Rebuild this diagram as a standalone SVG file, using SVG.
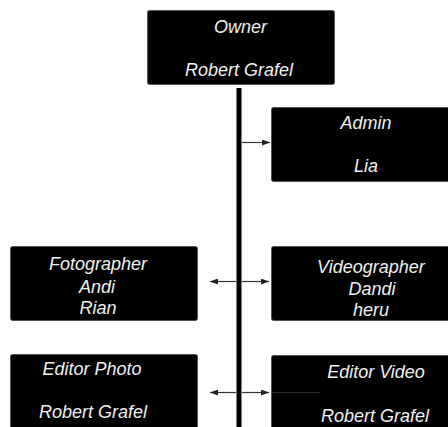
<svg xmlns="http://www.w3.org/2000/svg" width="448" height="427" viewBox="0 0 448 427">
<style>
.box{fill:#000;stroke:#555;stroke-width:1}
.t{font-family:"Liberation Sans",Arial,sans-serif;font-style:italic;font-size:18px;fill:#f0f0f0;text-anchor:middle}
.conn{stroke:#333;stroke-width:1.2;fill:none}
</style>
<defs>
<marker id="ah" viewBox="0 0 8 6" refX="8" refY="3" markerWidth="8" markerHeight="6" markerUnits="userSpaceOnUse" orient="auto">
<path d="M0,0 L8,3 L0,6 z" fill="#222"/>
</marker>
</defs>
<rect width="448" height="427" fill="#fff"/>
<g id="connectors">
<rect x="236.5" y="88" width="5" height="339" fill="#000"/>
<line class="conn" x1="242" y1="142.5" x2="270" y2="142.5" marker-end="url(#ah)"/>
<line class="conn" x1="236" y1="281.5" x2="210" y2="281.5" marker-end="url(#ah)"/>
<line class="conn" x1="242" y1="281.5" x2="269" y2="281.5" marker-end="url(#ah)"/>
<line class="conn" x1="236" y1="392.5" x2="210" y2="392.5" marker-end="url(#ah)"/>
<line class="conn" x1="242" y1="392.5" x2="269" y2="392.5" marker-end="url(#ah)"/>
</g>
<g id="owner">
<rect class="box" x="147.5" y="10.5" width="187" height="74" rx="2"/>
<text class="t" x="240.5" y="33">Owner</text>
<text class="t" x="239" y="76">Robert Grafel</text>
</g>
<g id="admin">
<rect class="box" x="271.5" y="107.5" width="190" height="74" rx="2"/>
<text class="t" x="366" y="129">Admin</text>
<text class="t" x="366" y="171.5">Lia</text>
</g>
<g id="fotographer">
<rect class="box" x="10.5" y="246.5" width="187" height="74" rx="2"/>
<text class="t" x="98" y="270">Fotographer</text>
<text class="t" x="97" y="292.5">Andi</text>
<text class="t" x="98" y="314">Rian</text>
</g>
<g id="videographer">
<rect class="box" x="271.5" y="246.5" width="190" height="74" rx="2"/>
<text class="t" x="371" y="272.5">Videographer</text>
<text class="t" x="372" y="295">Dandi</text>
<text class="t" x="371" y="316">heru</text>
</g>
<g id="editor-photo">
<rect class="box" x="10.5" y="354.5" width="187" height="80" rx="2"/>
<text class="t" x="92" y="375">Editor Photo</text>
<text class="t" x="93" y="418">Robert Grafel</text>
</g>
<g id="editor-video">
<rect class="box" x="271.5" y="355.5" width="190" height="80" rx="2"/>
<line x1="272" y1="392.5" x2="320" y2="392.5" stroke="#2a2a2a" stroke-width="1"/>
<text class="t" x="376" y="377.5">Editor Video</text>
<text class="t" x="375" y="421.5">Robert Grafel</text>
</g>
</svg>
